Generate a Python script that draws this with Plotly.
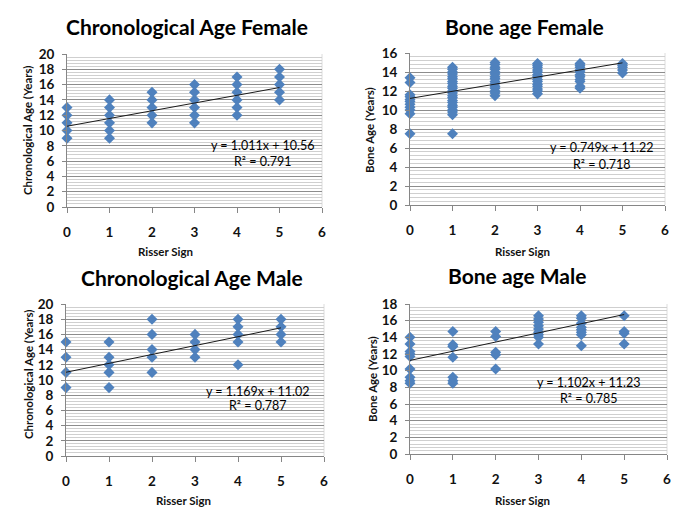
import plotly.graph_objects as go

# ---------------- data ----------------
risser_cf = [0]*5 + [1]*6 + [2]*5 + [3]*6 + [4]*6 + [5]*5
age_cf = [9, 10, 11, 12, 13,
          9, 10, 11, 12, 13, 14,
          11, 12, 13, 14, 15,
          11, 12, 13, 14, 15, 16,
          12, 13, 14, 15, 16, 17,
          14, 15, 16, 17, 18]

bone_f_0 = [7.5, 9.6, 10.0, 10.3, 10.6, 10.9, 11.1, 11.4, 11.6, 12.9, 13.4]
bone_f_1 = [7.5, 9.5, 9.8, 10.0, 10.3, 10.5, 10.8, 11.0, 11.3, 11.5, 11.8, 12.0,
            12.3, 12.5, 12.8, 13.0, 13.3, 13.5, 13.8, 14.0, 14.3, 14.5]
bone_f_2 = [11.5, 11.8, 12.0, 12.3, 12.5, 12.8, 13.0, 13.3, 13.5, 13.8, 14.0,
            14.3, 14.5, 14.8, 15.0]
bone_f_3 = [11.7, 12.0, 12.2, 12.5, 12.7, 13.0, 13.2, 13.5, 13.7, 14.0, 14.2,
            14.5, 14.7, 14.9]
bone_f_4 = [12.3, 12.5, 13.0, 13.2, 13.5, 13.7, 14.0, 14.2, 14.5, 14.7, 14.9]
bone_f_5 = [13.9, 14.2, 14.5, 14.7, 14.9]

risser_cm = [0]*4 + [1]*5 + [2]*5 + [3]*4 + [4]*5 + [5]*4
age_cm = [9, 11, 13, 15,
          9, 11, 12, 13, 15,
          11, 13, 14, 16, 18,
          13, 14, 15, 16,
          12, 15, 16, 17, 18,
          15, 16, 17, 18]

bone_m_0 = [8.5, 8.8, 9.2, 10.2, 11.7, 12.0, 12.3, 13.2, 14.0]
bone_m_1 = [8.5, 8.8, 9.2, 11.6, 12.9, 13.1, 14.7]
bone_m_2 = [10.2, 11.9, 12.2, 14.1, 14.7]
bone_m_3 = [13.2, 14.0, 14.3, 14.6, 15.0, 15.4, 15.8, 16.2, 16.6]
bone_m_4 = [13.0, 14.3, 14.6, 14.9, 15.2, 15.7, 16.3, 16.6]
bone_m_5 = [13.2, 14.5, 14.7, 16.6]

titles = ["Chronological Age Female", "Bone age Female",
          "Chronological Age Male", "Bone age Male"]
y_titles = ["Chronological Age (Years)", "Bone Age (Years)",
            "Chronological Age (Years)", "Bone Age (Years)"]
x_title = "Risser Sign"
slopes = [1.011, 0.749, 1.169, 1.102]
intercepts = [10.56, 11.22, 11.02, 11.23]
r2 = ["0.791", "0.718", "0.787", "0.785"]
y_max = [20, 16, 20, 18]
x_ticks = [0, 1, 2, 3, 4, 5, 6]


def stack(cols):
    xs, ys = [], []
    for i, c in enumerate(cols):
        xs += [i] * len(c)
        ys += c
    return xs, ys


bf_x, bf_y = stack([bone_f_0, bone_f_1, bone_f_2, bone_f_3, bone_f_4, bone_f_5])
bm_x, bm_y = stack([bone_m_0, bone_m_1, bone_m_2, bone_m_3, bone_m_4, bone_m_5])

series = [(risser_cf, age_cf), (bf_x, bf_y), (risser_cm, age_cm), (bm_x, bm_y)]

# ---------------- layout geometry (page pixels) ----------------
PAGE_W, PAGE_H = 685, 524
OFF = 8                      # default body margin of the html page
W, H = PAGE_W - OFF, PAGE_H - OFF

areas = [(67, 322, 54, 207), (410, 665, 53, 205),
         (66, 324, 304, 456), (410, 667, 304, 454)]
title_pos = [(187, 27), (524, 27), (192, 277), (517, 275)]
xt_pos = [(165, 252), (522, 252), (183, 500), (522, 500)]
yt_pos = [(28, 130), (370, 130), (28, 374), (372, 379)]
eq_pos = [(4.61, 8.1, 5.9), (4.52, 6.1, 4.3), (4.47, 8.55, 6.6), (4.18, 8.64, 6.7)]


def px(v):
    return (v - OFF) / W


def py(v):
    return 1 - (v - OFF) / H


FONT = "Lato"
BLUE = "#4F81BD"

fig = go.Figure()
annotations = []
shapes = []

for i in range(4):
    ax = "" if i == 0 else str(i + 1)
    xs, ys = series[i]
    fig.add_trace(go.Scatter(
        x=xs, y=ys, mode="markers", xaxis="x" + ax, yaxis="y" + ax,
        marker=dict(symbol="diamond", size=8.5, color=BLUE, line=dict(width=0)),
        cliponaxis=False, showlegend=False))
    lx = [0, 5]
    ly = [intercepts[i] + slopes[i] * v for v in lx]
    fig.add_trace(go.Scatter(
        x=lx, y=ly, mode="lines", xaxis="x" + ax, yaxis="y" + ax,
        line=dict(color="#1a1a1a", width=1), showlegend=False))

    l, r, t, b = areas[i]
    xd = [px(l), px(r)]
    yd = [py(b), py(t)]
    fig.update_layout(**{
        "xaxis" + ax: dict(
            domain=xd, range=[0, 6], tickvals=x_ticks, anchor="y" + ax,
            automargin=False,
            showgrid=False, zeroline=False, showline=True, linecolor="#868686",
            linewidth=1, ticks="outside", ticklen=5, tickcolor="#868686",
            ticklabelstandoff=8,
            tickfont=dict(family=FONT, size=13.5, color="#111111", weight="bold")),
        "yaxis" + ax: dict(
            domain=yd, range=[0, y_max[i]], dtick=2, anchor="x" + ax,
            automargin=False,
            showgrid=True, gridcolor="#8c8c8c", gridwidth=1, zeroline=False,
            showline=True, linecolor="#868686", linewidth=1,
            ticks="outside", ticklen=4, tickcolor="#868686",
            ticklabelstandoff=5,
            minor=dict(dtick=0.4, showgrid=True, gridcolor="#cfcfcf", gridwidth=1),
            tickfont=dict(family=FONT, size=13.5, color="#111111", weight="bold")),
    })
    shapes.append(dict(type="line", xref="x" + ax + " domain", yref="y" + ax + " domain",
                       x0=1, x1=1, y0=0, y1=1, line=dict(color="#dcdcdc", width=1),
                       layer="below"))

    tx, ty = title_pos[i]
    annotations.append(dict(text=titles[i], x=px(tx), y=py(ty), xref="paper",
                            yref="paper", showarrow=False, xanchor="center",
                            yanchor="middle",
                            font=dict(family=FONT, size=21, color="#000000",
                                      weight="bold")))
    xx, xy = xt_pos[i]
    annotations.append(dict(text=x_title, x=px(xx), y=py(xy), xref="paper",
                            yref="paper", showarrow=False, xanchor="center",
                            yanchor="middle",
                            font=dict(family=FONT, size=11.5, color="#111111",
                                      weight="bold")))
    yx, yy = yt_pos[i]
    annotations.append(dict(text=y_titles[i], x=px(yx), y=py(yy), xref="paper",
                            yref="paper", showarrow=False, xanchor="center",
                            yanchor="middle", textangle=-90,
                            font=dict(family=FONT, size=11.5, color="#111111",
                                      weight="bold")))
    ex, ey1, ey2 = eq_pos[i]
    annotations.append(dict(text="y = %.3fx + %.2f" % (slopes[i], intercepts[i]),
                            x=ex, y=ey1, xref="x" + ax, yref="y" + ax,
                            showarrow=False, xanchor="center", yanchor="middle",
                            font=dict(family=FONT, size=12.5, color="#000000")))
    annotations.append(dict(text="R² = " + r2[i],
                            x=ex, y=ey2, xref="x" + ax, yref="y" + ax,
                            showarrow=False, xanchor="center", yanchor="middle",
                            font=dict(family=FONT, size=12.5, color="#000000")))

fig.update_layout(width=W, height=H, margin=dict(l=0, r=0, t=0, b=0),
                  paper_bgcolor="white", plot_bgcolor="white",
                  annotations=annotations, shapes=shapes)

fig.write_html("out.html")
